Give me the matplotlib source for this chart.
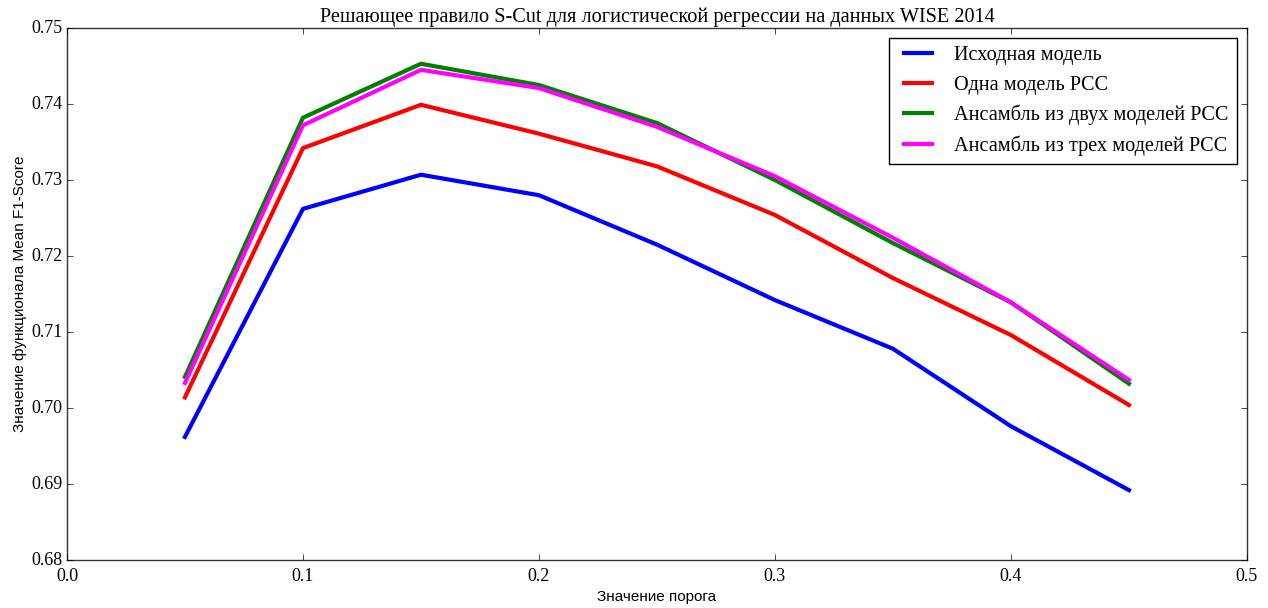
import matplotlib
matplotlib.use("Agg")
import matplotlib.pyplot as plt

thresholds = [0.05, 0.10, 0.15, 0.20, 0.25, 0.30, 0.35, 0.40, 0.45]
base_model = [0.6962, 0.7262, 0.7307, 0.7280, 0.7215, 0.7142, 0.7078, 0.6976, 0.6892]
one_pcc = [0.7014, 0.7342, 0.7399, 0.7361, 0.7318, 0.7254, 0.7171, 0.7096, 0.7004]
two_pcc = [0.7041, 0.7382, 0.7453, 0.7425, 0.7375, 0.7300, 0.7217, 0.7139, 0.7032]
three_pcc = [0.7033, 0.7372, 0.7445, 0.7421, 0.7370, 0.7305, 0.7224, 0.7139, 0.7037]

labels = ["Исходная модель", "Одна модель PCC",
          "Ансамбль из двух моделей PCC", "Ансамбль из трех моделей PCC"]
colors = ["#0000ff", "#ff0000", "#008000", "#ff00ff"]

xticks = [0.0, 0.1, 0.2, 0.3, 0.4, 0.5]
yticks = [0.68, 0.69, 0.70, 0.71, 0.72, 0.73, 0.74, 0.75]

plt.style.use("classic")
plt.rcParams["font.family"] = ["Liberation Serif", "DejaVu Serif"]

fig = plt.figure(figsize=(12.68, 6.08), dpi=100, facecolor="white")
ax = fig.add_axes([0.0528, 0.0789, 0.9306, 0.875])
ax.set_facecolor("white")

for y, lab, c in zip([base_model, one_pcc, two_pcc, three_pcc], labels, colors):
    ax.plot(thresholds, y, color=c, lw=3, label=lab)

ax.set_xlim(0.0, 0.5)
ax.set_ylim(0.68, 0.75)
ax.set_xticks(xticks)
ax.set_yticks(yticks)
ax.set_xticklabels([f"{v:.1f}" for v in xticks], fontsize=13)
ax.set_yticklabels([f"{v:.2f}" for v in yticks], fontsize=13)
ax.tick_params(axis="y", pad=3)
ax.tick_params(axis="x", pad=6)
for s in ax.spines.values():
    s.set_color("#333333")

label_font = ["Liberation Sans", "DejaVu Sans"]
ax.set_title("Решающее правило S-Cut для логистической регрессии на данных WISE 2014",
             fontsize=14.6, pad=4)
ax.set_xlabel("Значение порога", fontsize=11, family=label_font, labelpad=3)
ax.set_ylabel("Значение функционала Mean F1-Score", fontsize=11, family=label_font,
              labelpad=3)

leg = ax.legend(loc="upper right", fontsize=14.6, frameon=True, fancybox=False,
                borderaxespad=0.5, labelspacing=0.5)
leg.get_frame().set_edgecolor("black")

fig.savefig("out.png", dpi=100, facecolor="white")
